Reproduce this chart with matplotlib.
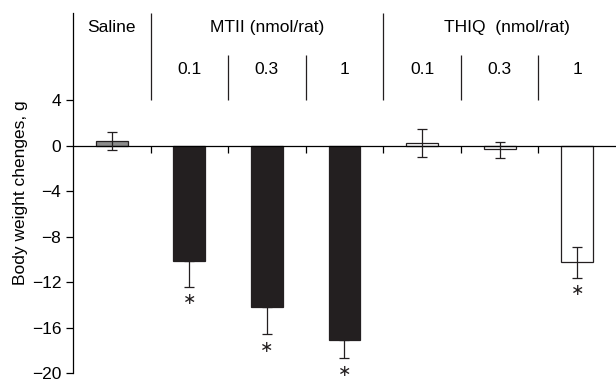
import matplotlib.pyplot as plt
import numpy as np

plt.rcParams['font.family'] = ['Liberation Sans', 'DejaVu Sans']
plt.rcParams['axes.unicode_minus'] = True

groups = ['Saline', 'MTII (nmol/rat)', 'THIQ  (nmol/rat)']
doses = ['0.1', '0.3', '1', '0.1', '0.3', '1']
values = [0.45, -10.15, -14.2, -17.1, 0.25, -0.3, -10.25]
err_low = [0.8, 2.25, 2.4, 1.6, 1.2, 0.75, 1.35]
err_high = [0.8, 0, 0, 0, 1.2, 0.65, 1.35]
colors = ['#8c8c8c', '#231f20', '#231f20', '#231f20', 'white', 'white', 'white']
star_idx = [1, 2, 3, 6]

x = np.arange(len(values))
fs = 12.5

fig = plt.figure(figsize=(6.16, 3.79), dpi=100)
ax = fig.add_axes([0.1185, 0.0158, 0.8815, 0.9499])

ax.bar(x, values, width=0.41, color=colors, edgecolor='#231f20', linewidth=0.9, zorder=2)
ax.errorbar(x, values, yerr=[err_low, err_high], fmt='none', ecolor='#231f20',
            elinewidth=0.9, capsize=3.3, capthick=0.9, zorder=3)

# asterisks under significant bars
for i in star_idx:
    ax.text(x[i], values[i] - err_low[i] - 1.15, '\u2217', ha='center', va='center',
            fontsize=11.5, color='#231f20', family='DejaVu Sans')

ax.set_xlim(-0.5, 6.5)
ax.set_ylim(-20, 11.7)
ax.set_yticks(np.arange(-20, 5, 4))
ax.tick_params(axis='y', labelsize=fs, length=5, width=0.9, direction='out', pad=3.5)
ax.set_ylabel('Body weight chenges, g', fontsize=fs, labelpad=3)

# x axis sits at zero, with small ticks between bars
ax.spines['bottom'].set_position(('data', 0))
ax.spines['top'].set_visible(False)
ax.spines['right'].set_visible(False)
ax.spines['bottom'].set_linewidth(0.9)
ax.spines['left'].set_linewidth(0.9)
ax.set_xticks(np.arange(0.5, 6, 1))
ax.set_xticklabels([])
ax.tick_params(axis='x', length=5, width=0.9, direction='out')

# header dividers
ax.vlines([0.5, 3.5], 4, 11.7, color='#231f20', linewidth=0.9, clip_on=False)
ax.vlines([1.5, 2.5, 4.5, 5.5], 4, 8.0, color='#231f20', linewidth=0.9)

ax.text(0, 10.4, groups[0], ha='center', va='center', fontsize=fs)
ax.text(2, 10.4, groups[1], ha='center', va='center', fontsize=fs)
ax.text(5.1, 10.4, groups[2], ha='center', va='center', fontsize=fs)
for i, d in enumerate(doses):
    ax.text(i + 1, 6.7, d, ha='center', va='center', fontsize=fs)

fig.savefig('out.png', dpi=100)
